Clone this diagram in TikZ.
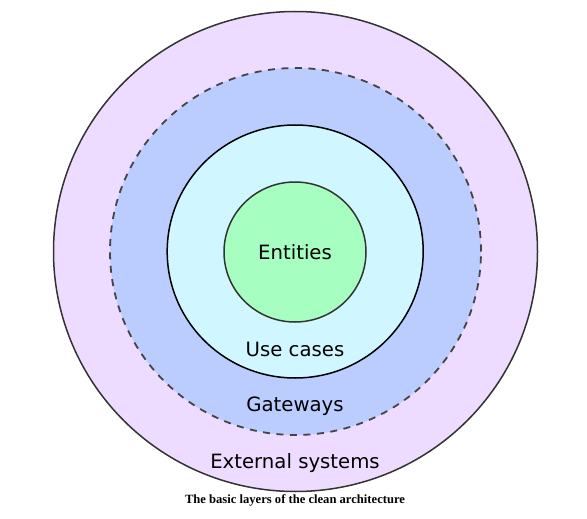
\documentclass[tikz,border=0pt]{standalone}
\usepackage{fontspec}
\setmainfont{DejaVu Sans}
\newfontfamily\capfont{Liberation Serif}
\usetikzlibrary{shapes.geometric}
\definecolor{extcol}{RGB}{237,220,255}
\definecolor{gatecol}{RGB}{187,204,255}
\definecolor{usecol}{RGB}{208,247,255}
\definecolor{entcol}{RGB}{166,255,193}
\definecolor{linegray}{RGB}{51,51,51}
\definecolor{dashgray}{RGB}{68,68,68}
\tikzset{
  layer/.style={ellipse, inner sep=0pt, line width=1.5pt},
  lbl/.style={font=\fontsize{19.7}{23}\selectfont, text=black, inner sep=0pt, anchor=base},
}
\begin{document}
\begin{tikzpicture}[x=1pt,y=-1pt]
\useasboundingbox (0,0) rectangle (587,519);
\node[layer, draw=linegray, fill=extcol, minimum width=484pt, minimum height=480pt] (ext) at (295.5,251.5) {};
\node[layer, draw=dashgray, fill=gatecol, dash pattern=on 7pt off 6.5pt, line width=1.8pt, minimum width=371pt, minimum height=367pt] (gate) at (295.5,251.5) {};
\node[layer, draw=black, fill=usecol, minimum width=256pt, minimum height=253pt] (use) at (295.2,251.5) {};
\node[layer, draw=linegray, fill=entcol, minimum width=142pt, minimum height=140pt] (ent) at (295,252) {};
\node[lbl] (tent) at (295,259.3) {Entities};
\node[lbl] (tuse) at (295,356) {Use cases};
\node[lbl] (tgate) at (295,411.7) {Gateways};
\node[lbl] (text) at (295,468) {External systems};
\node[font=\capfont\bfseries\fontsize{12.6}{15}\selectfont, inner sep=0pt, anchor=base] (cap) at (295,503.3) {The basic layers of the clean architecture};
\end{tikzpicture}
\end{document}
